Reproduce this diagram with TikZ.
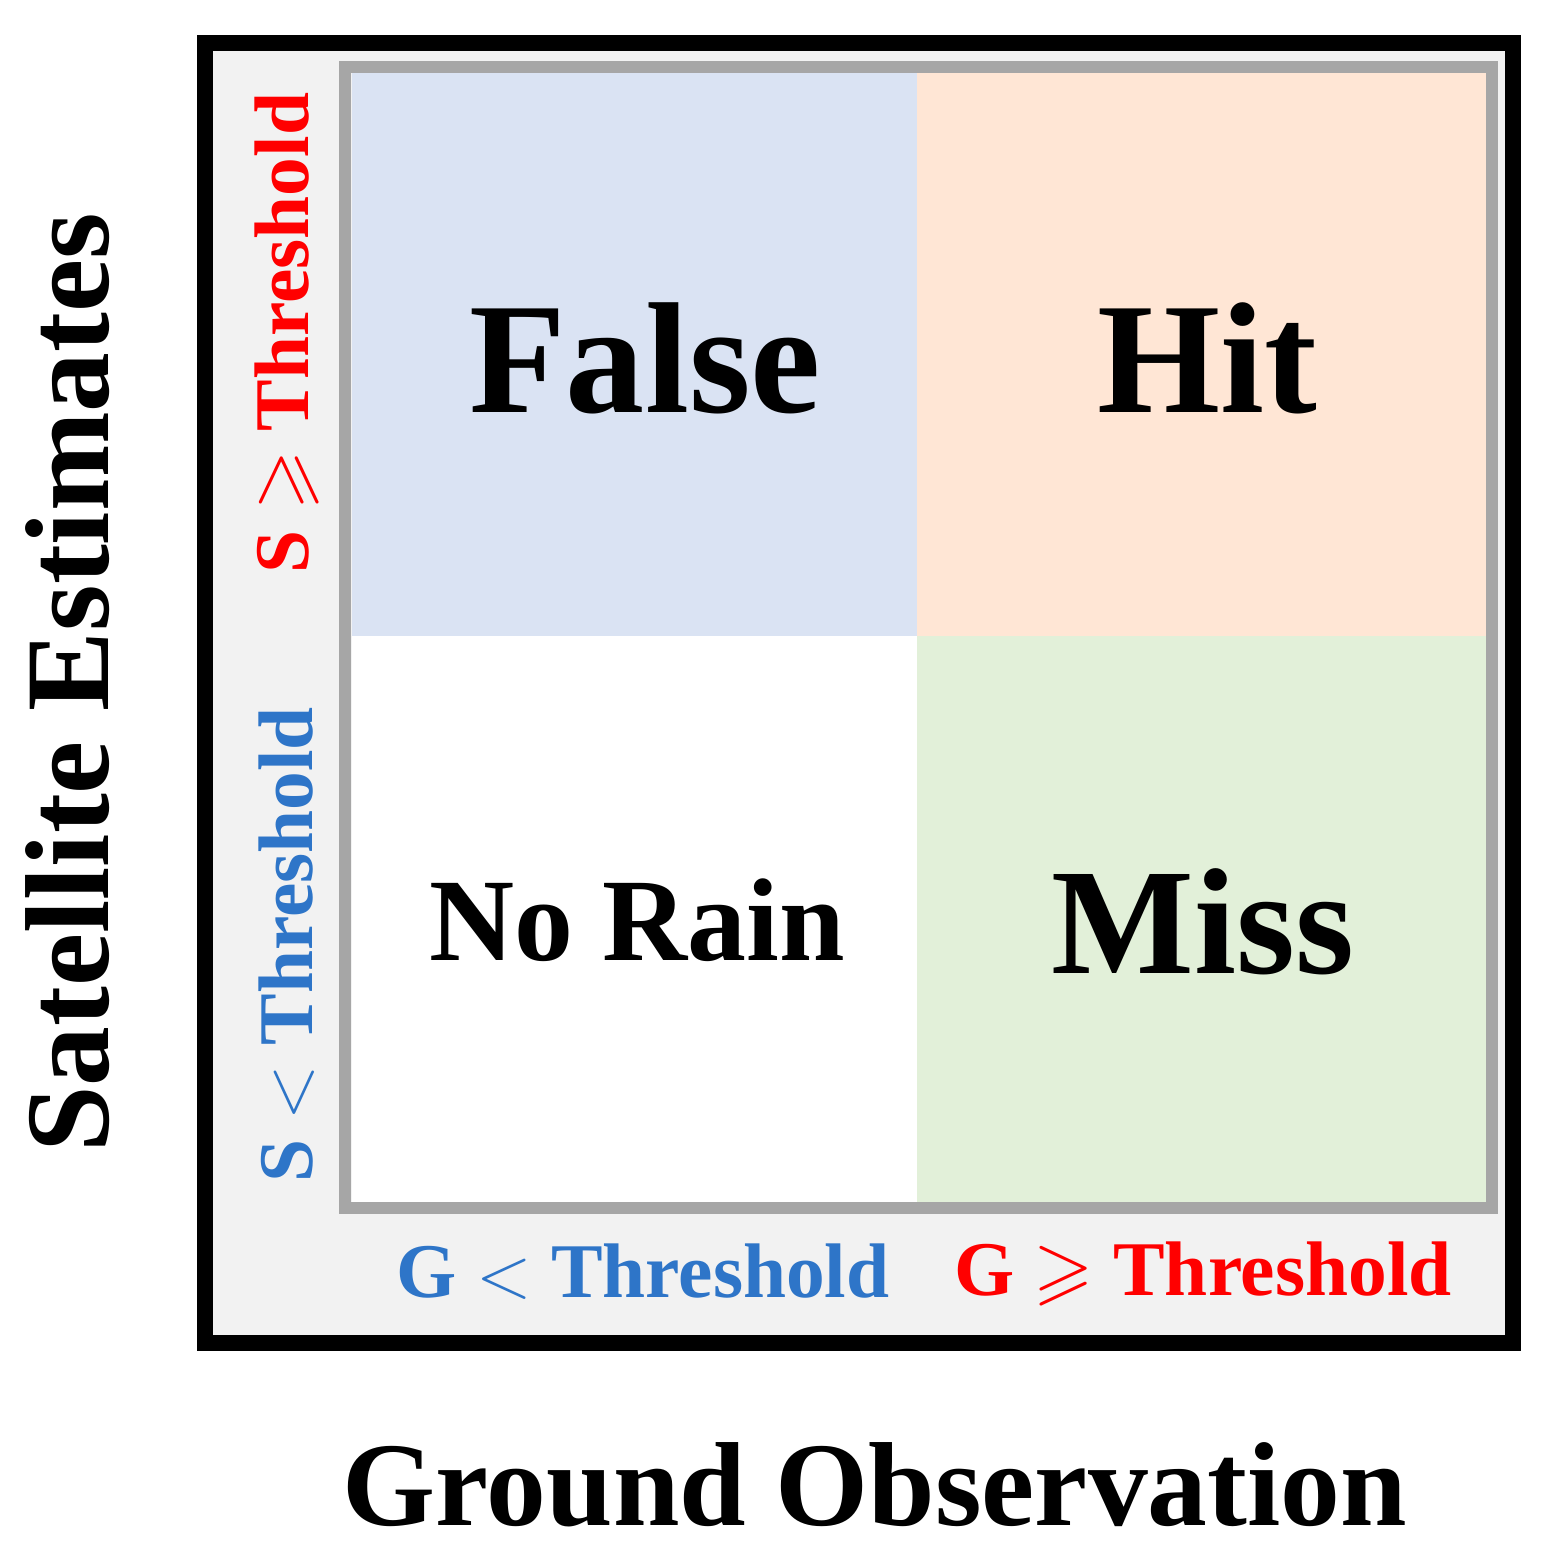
\documentclass[tikz,border=0pt]{standalone}
\usepackage{amssymb}
\usepackage{fontspec}
\setmainfont{Liberation Serif}
\definecolor{cblue}{HTML}{DAE3F3}
\definecolor{corange}{HTML}{FFE6D5}
\definecolor{cgreen}{HTML}{E2F0D9}
\definecolor{cgray}{HTML}{A6A6A6}
\definecolor{cbg}{HTML}{F2F2F2}
\definecolor{tblue}{HTML}{2E75C8}
\definecolor{tred}{HTML}{FF0000}
\tikzset{big/.style={font=\bfseries\fontsize{45}{48}\selectfont},
 lab/.style={font=\bfseries\fontsize{22}{25}\selectfont},
 axis/.style={font=\bfseries\fontsize{34}{38}\selectfont}}
\begin{document}
\begin{tikzpicture}[x=0.01cm,y=-0.01cm]
\useasboundingbox (0,0) rectangle (1556,1553);
\draw[line width=16*0.2845pt,fill=cbg] (205,43) rectangle (1513,1343);
\fill[cblue] (352,73) rectangle (917,636);
\fill[corange] (917,73) rectangle (1487,636);
\fill[white] (352,636) rectangle (917,1202);
\fill[cgreen] (917,636) rectangle (1487,1202);
\draw[cgray,line width=12*0.2845pt] (345,67) rectangle (1492,1208);
\node[big] (f) at (645,358) {False};
\node[big] (h) at (1207,358) {Hit};
\node[big,font=\bfseries\fontsize{33.5}{36}\selectfont] (n) at (637,920) {No Rain};
\node[big,font=\bfseries\fontsize{43}{46}\selectfont] (m) at (1203,922) {Miss};
\node[lab,text=tblue] (gl) at (643,1272) {G \textbf{$<$} Threshold};
\node[lab,text=tred] (gh) at (1203,1274) {G $\geqslant$ Threshold};
\node[lab,text=tred,rotate=90] (sh) at (287,333) {S $\geqslant$ Threshold};
\node[lab,text=tblue,rotate=90] (sl) at (287,945) {S $<$ Threshold};
\node[axis,rotate=90] (se) at (68,683) {Satellite Estimates};
\node[axis] (go) at (875,1485) {Ground Observation};
\end{tikzpicture}
\end{document}
